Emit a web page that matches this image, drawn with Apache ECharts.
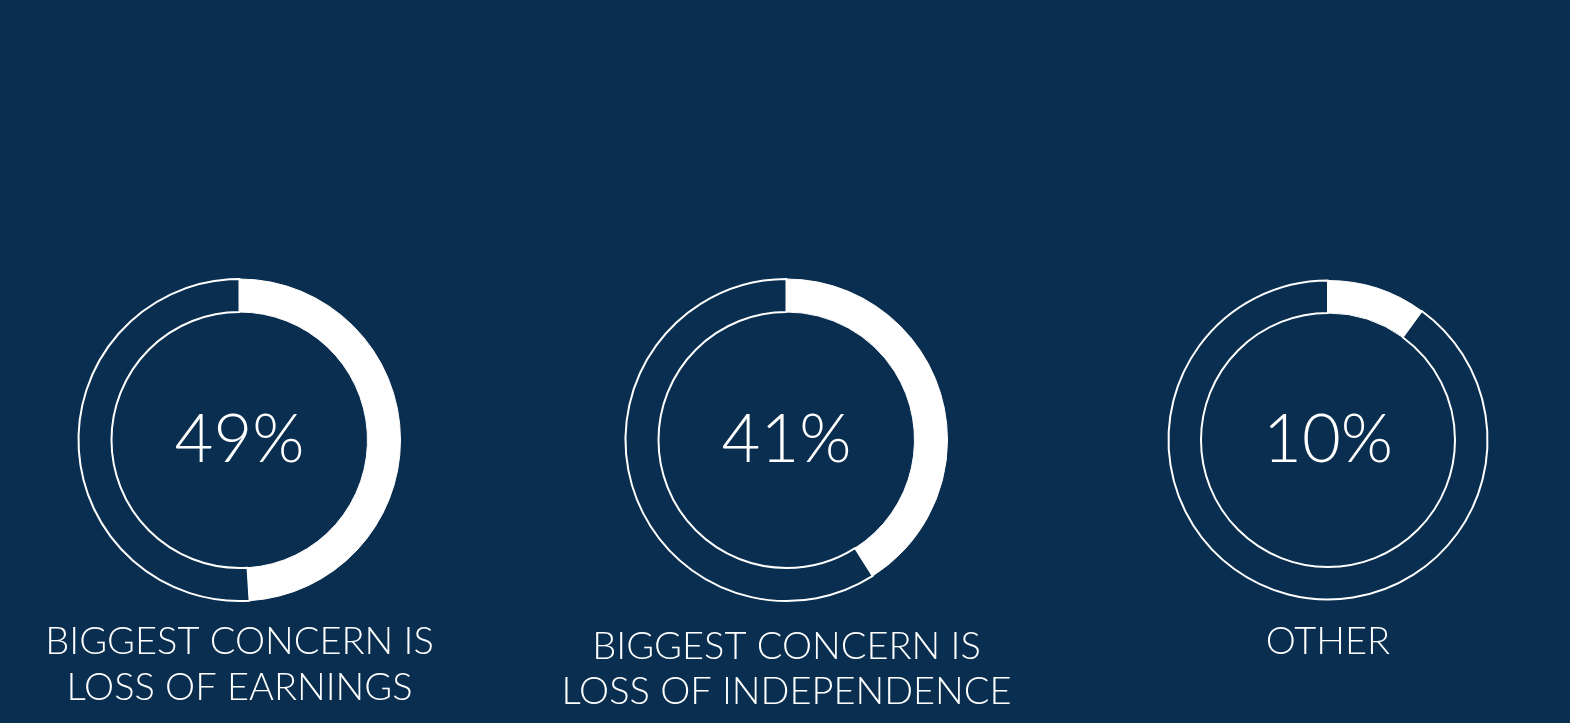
<!DOCTYPE html>
<html>
<head>
<meta charset="utf-8">
<script src="https://cdn.jsdelivr.net/npm/echarts@6/dist/echarts.min.js"></script>
<style>
html,body{margin:0;padding:0;background:#0a2e4f;}
#chart{width:1570px;height:723px;}
</style>
</head>
<body>
<div id="chart"></div>
<script>
// Data
const categories = ['BIGGEST CONCERN IS\nLOSS OF EARNINGS', 'BIGGEST CONCERN IS\nLOSS OF INDEPENDENCE', 'OTHER'];
const percentValues = [49, 41, 10];

// Layout (not data)
const centersX = [239.5, 786.5, 1328];
const radii = [[128, 161], [128, 161], [127, 159.5]];
const centerY = 440;
const labelTops = [619, 623.5, 619];

const FONT = 'Lato, "Open Sans", sans-serif';

const series = percentValues.map((v, i) => ({
  type: 'pie',
  center: [centersX[i], centerY],
  radius: radii[i],
  startAngle: 90,
  clockwise: true,
  silent: true,
  animation: false,
  avoidLabelOverlap: false,
  labelLine: { show: false },
  emphasis: { disabled: true },
  data: [
    {
      value: v,
      itemStyle: { color: '#ffffff', borderColor: '#ffffff', borderWidth: 1 },
      label: {
        show: true,
        position: 'center',
        formatter: '{c}%',
        color: '#ffffff',
        fontFamily: FONT,
        fontWeight: 300,
        fontSize: 67
      }
    },
    {
      value: 100 - v,
      itemStyle: { color: 'rgba(0,0,0,0)', borderColor: '#ffffff', borderWidth: 2 },
      label: { show: false }
    }
  ]
}));

const titles = categories.map((c, i) => ({
  text: c,
  left: centersX[i],
  top: labelTops[i],
  textAlign: 'center',
  padding: 0,
  textStyle: {
    color: '#ffffff',
    fontFamily: FONT,
    fontWeight: 300,
    fontSize: 38,
    lineHeight: 45.5
  }
}));

const chart = echarts.init(document.getElementById('chart'), null, { renderer: 'canvas' });
chart.setOption({
  backgroundColor: '#0a2e4f',
  animation: false,
  title: titles,
  series: series
});
</script>
</body>
</html>
